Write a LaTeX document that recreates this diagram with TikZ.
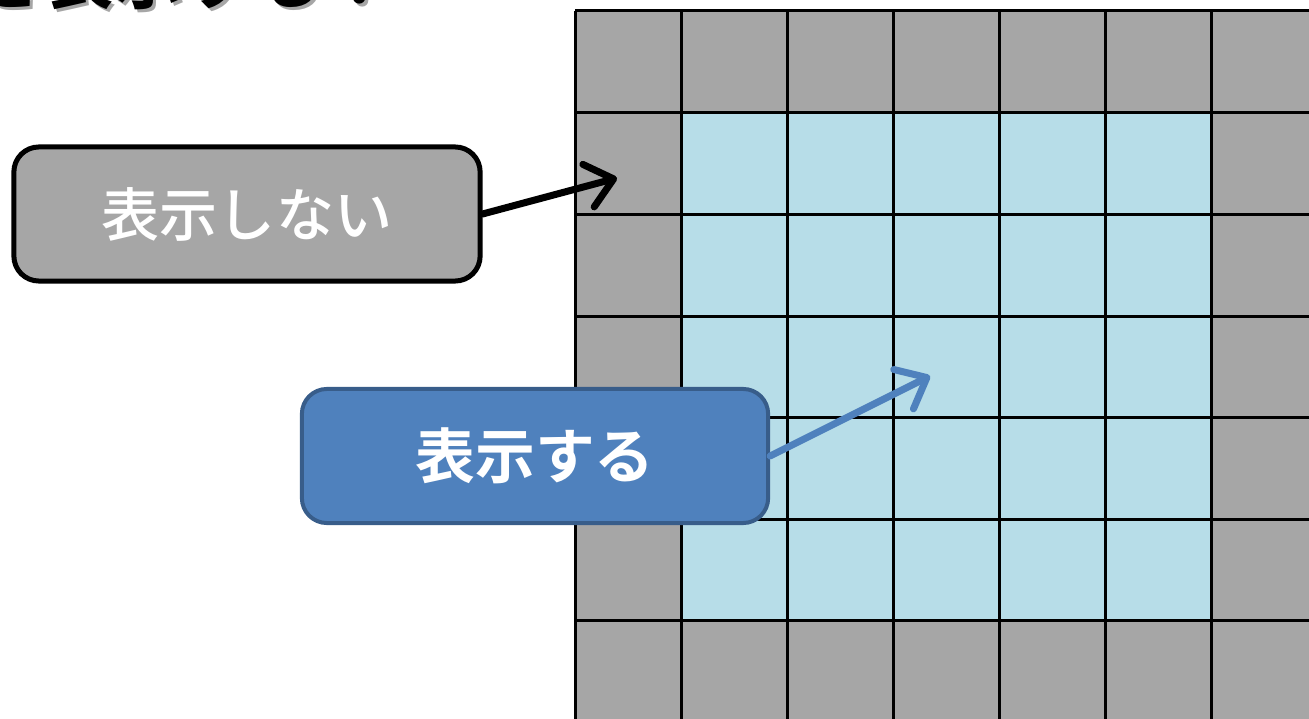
\documentclass[tikz,border=0pt]{standalone}
\usepackage{fontspec}
\usetikzlibrary{arrows.meta,positioning}
\newfontfamily\jpfont{Noto Sans CJK JP Medium}
\newfontfamily\jpbold{Noto Sans CJK JP Bold}
\definecolor{cellgray}{HTML}{A6A6A6}
\definecolor{cellblue}{HTML}{B7DDE8}
\definecolor{boxblue}{HTML}{4F81BD}
\definecolor{boxedge}{HTML}{385D8A}
\tikzset{
  gridline/.style={line width=0.03cm, black},
  labelbox/.style={rounded corners=0.25cm, minimum width=4.66cm, minimum height=1.34cm, text=white, inner sep=0pt},
  pointer/.style={line width=0.07cm, line cap=round, -{Straight Barb[length=0.26cm, width=0.44cm, round]}}
}
\begin{document}
\begin{tikzpicture}[x=0.01cm, y=-0.01cm]
                \useasboundingbox (0,0) rectangle (1309,719);
                \clip (0,0) rectangle (1309,719);

                % Drawing title (cut at the top)
                \node [anchor=base west, inner sep=0pt, text=black!35, font=\jpbold\fontsize{20pt}{20pt}\selectfont] (shade) at (-25,7) {を表示する！};
                \node [anchor=base west, inner sep=0pt, font=\jpbold\fontsize{20pt}{20pt}\selectfont] (title) at (-28,4) {を表示する！};

                % Drawing cells
                \fill [cellgray] (575,11) rectangle (1330,730);
                \fill [cellblue] (681,113) rectangle (1211,621);

                % Drawing vertical lines
                \draw [gridline] (575,11) -- (575,730);
                \draw [gridline] (681,11) -- (681,730);
                \draw [gridline] (787,11) -- (787,730);
                \draw [gridline] (893,11) -- (893,730);
                \draw [gridline] (999,11) -- (999,730);
                \draw [gridline] (1105,11) -- (1105,730);
                \draw [gridline] (1211,11) -- (1211,730);

                % Drawing horizontal lines
                \draw [gridline] (575,11) -- (1330,11);
                \draw [gridline] (575,113) -- (1330,113);
                \draw [gridline] (575,215) -- (1330,215);
                \draw [gridline] (575,317) -- (1330,317);
                \draw [gridline] (575,418) -- (1330,418);
                \draw [gridline] (575,520) -- (1330,520);
                \draw [gridline] (575,621) -- (1330,621);

                % Marking box hidden
                \node [labelbox, draw=black, line width=0.05cm, fill=cellgray, font=\jpfont\fontsize{16.5pt}{16.5pt}\selectfont] (hidden) at (247,214) {表示しない};
                \coordinate (hiddenend) at (617,178);
                \draw [pointer, black] (hidden.east) -- (hiddenend);

                % Marking box shown
                \node [labelbox, draw=boxedge, line width=0.04cm, fill=boxblue, font=\jpbold\fontsize{17pt}{17pt}\selectfont] (shown) at (535,456) {表示する};
                \coordinate (shownend) at (930,376);
                \draw [pointer, boxblue] (shown.east) -- (shownend);
\end{tikzpicture}
\end{document}
